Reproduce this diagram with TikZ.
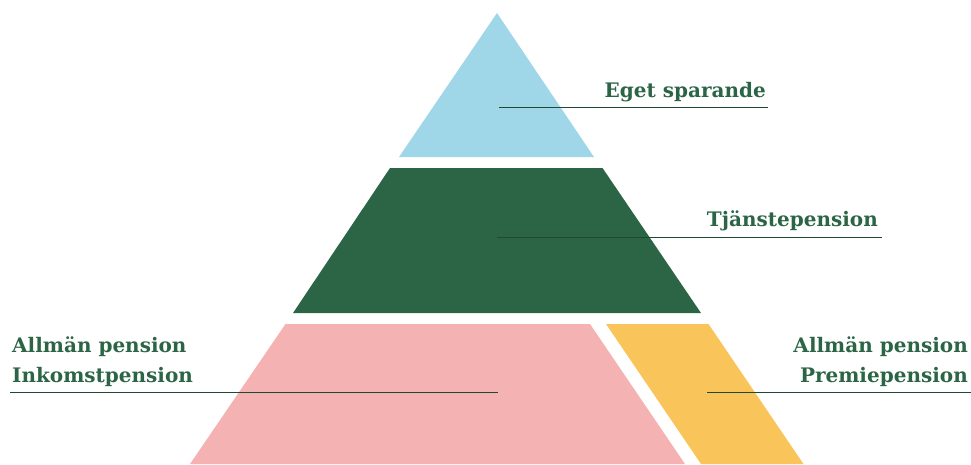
\documentclass[tikz,border=0pt]{standalone}
\usepackage{fontspec}
\setmainfont{DejaVu Serif}
\definecolor{skyb}{HTML}{A0D7E8}
\definecolor{forest}{HTML}{2B6545}
\definecolor{rose}{HTML}{F5B2B2}
\definecolor{gold}{HTML}{F9C55A}
\definecolor{txtg}{HTML}{2B6545}
\definecolor{lineg}{HTML}{1E4A32}
\tikzset{
  lbl/.style={font=\bfseries\fontsize{20}{24}\selectfont, text=txtg, inner sep=0pt},
  leader/.style={draw=lineg, line width=1pt},
}
\begin{document}
\begin{tikzpicture}[x=1pt,y=-1pt]
\useasboundingbox (0,0) rectangle (971,464);
% layers
\fill[skyb] (497,13) -- (594,157) -- (399,157) -- cycle;
\fill[forest] (390,168) -- (602.5,168) -- (701,313) -- (293,313) -- cycle;
\fill[rose] (285.5,324) -- (590,324) -- (685,464) -- (190,464) -- cycle;
\fill[gold] (606,324) -- (708.5,324) -- (803.5,464) -- (701,464) -- cycle;
% leader ends
\coordinate (e1) at (499,107);
\coordinate (e2) at (768,107);
\coordinate (t1) at (497,237);
\coordinate (t2) at (882,237);
\coordinate (i1) at (10,392.5);
\coordinate (i2) at (498,392.5);
\coordinate (p1) at (707,392.5);
\coordinate (p2) at (971,392.5);
\draw[leader] (e1) -- (e2);
\draw[leader] (t1) -- (t2);
\draw[leader] (i1) -- (i2);
\draw[leader] (p1) -- (p2);
% labels
\node[lbl, anchor=base east] (eget) at (766,97) {Eget sparande};
\node[lbl, anchor=base east] (tjan) at (878,226) {Tjänstepension};
\node[lbl, anchor=base west] (alm1) at (12,352) {Allmän pension};
\node[lbl, anchor=base west] (inko) at (12,382) {Inkomstpension};
\node[lbl, anchor=base east] (alm2) at (968,352) {Allmän pension};
\node[lbl, anchor=base east] (prem) at (968,382) {Premiepension};
\end{tikzpicture}
\end{document}
